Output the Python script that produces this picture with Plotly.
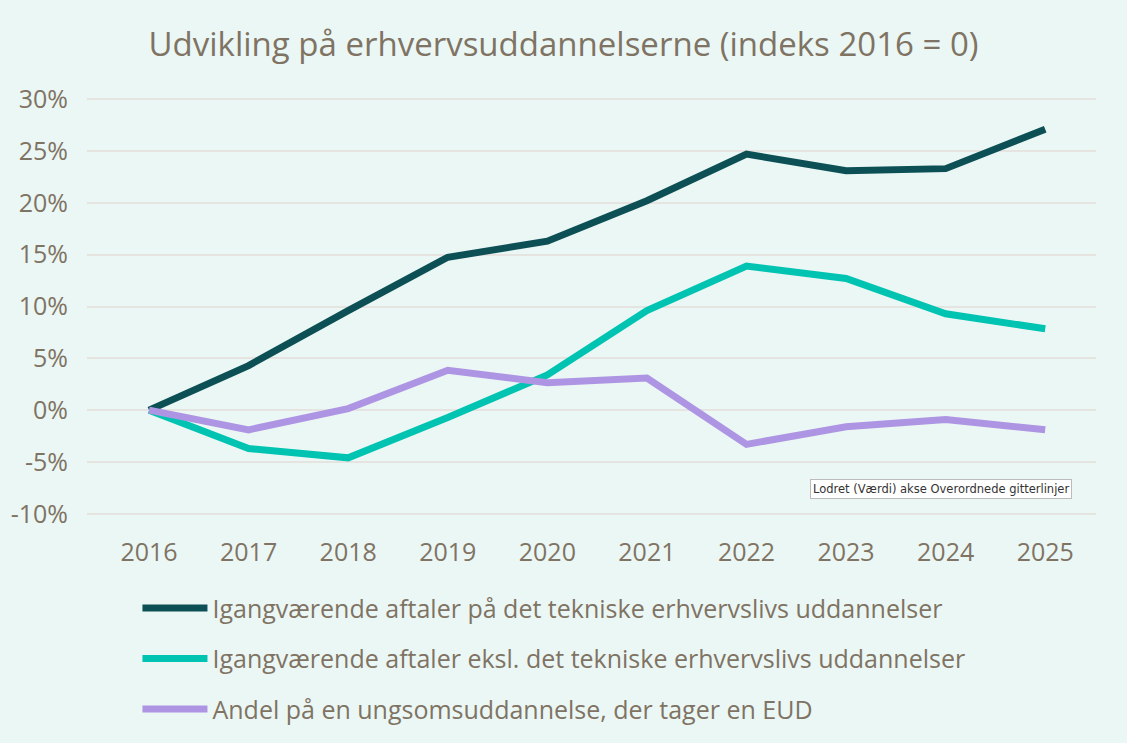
import plotly.graph_objects as go

years = ['2016', '2017', '2018', '2019', '2020', '2021', '2022', '2023', '2024', '2025']

tekniske = [0.0, 4.3, 9.6, 14.75, 16.3, 20.2, 24.7, 23.1, 23.3, 27.1]
ekskl_tekniske = [0.0, -3.7, -4.6, -0.7, 3.4, 9.6, 13.9, 12.7, 9.3, 7.85]
andel_eud = [0.0, -1.9, 0.15, 3.85, 2.65, 3.1, -3.3, -1.6, -0.9, -1.9]

series_names = ['Igangværende aftaler på det tekniske erhvervslivs uddannelser',
                'Igangværende aftaler eksl. det tekniske erhvervslivs uddannelser',
                'Andel på en ungsomsuddannelse, der tager en EUD']

y_ticks = [-10, -5, 0, 5, 10, 15, 20, 25, 30]
y_tick_labels = ['-10%', '-5%', '0%', '5%', '10%', '15%', '20%', '25%', '30%']

text_color = '#7F7363'
bg_color = '#EBF7F5'
colors = ['#0C5055', '#00C4B1', '#AE95E3']

fig = go.Figure()

for i, (name, vals, col) in enumerate(zip(series_names, [tekniske, ekskl_tekniske, andel_eud], colors)):
    fig.add_trace(go.Scatter(x=list(range(len(years))), y=vals, mode='lines', name=name,
                             legendgroup=f'g{i}',
                             line=dict(color=col, width=7)))

# excel-tooltip left over in the screenshot
fig.add_annotation(x=7.95, y=-7.6, xref='x', yref='y', showarrow=False,
                   text='Lodret (Værdi) akse Overordnede gitterlinjer',
                   font=dict(family='DejaVu Sans', size=11.5, color='#333333'),
                   bgcolor='white', bordercolor='#BBBBBB', borderwidth=1, borderpad=2)

fig.update_layout(
    width=1127, height=743,
    paper_bgcolor=bg_color, plot_bgcolor=bg_color,
    font=dict(family='Open Sans', color=text_color),
    title=dict(text='Udvikling på erhvervsuddannelserne (indeks 2016 = 0)',
               x=0.5, xanchor='center', y=0.94, yanchor='middle',
               font=dict(size=33, color=text_color)),
    margin=dict(l=87, r=31, t=94, b=223),
    showlegend=True,
    legend=dict(orientation='v', x=0.05, xanchor='left', y=-0.153, yanchor='top',
                font=dict(size=25, color=text_color), itemwidth=65,
                tracegroupgap=15, bgcolor='rgba(0,0,0,0)'),
    xaxis=dict(tickmode='array', tickvals=list(range(len(years))), ticktext=years,
               range=[-0.623, 9.51], showgrid=False, zeroline=False, showline=False,
               tickfont=dict(size=25, color=text_color), ticks='', ticklabelstandoff=16),
    yaxis=dict(tickmode='array', tickvals=y_ticks, ticktext=y_tick_labels,
               range=[-10.5, 30.5], showgrid=True, gridcolor='#E6E4E0', gridwidth=2,
               zeroline=False, showline=False,
               tickfont=dict(size=25, color=text_color), ticks='', ticklabelstandoff=18),
)

fig.write_html("out.html", config={'displayModeBar': False},
               post_script="document.body.style.margin='0';")
